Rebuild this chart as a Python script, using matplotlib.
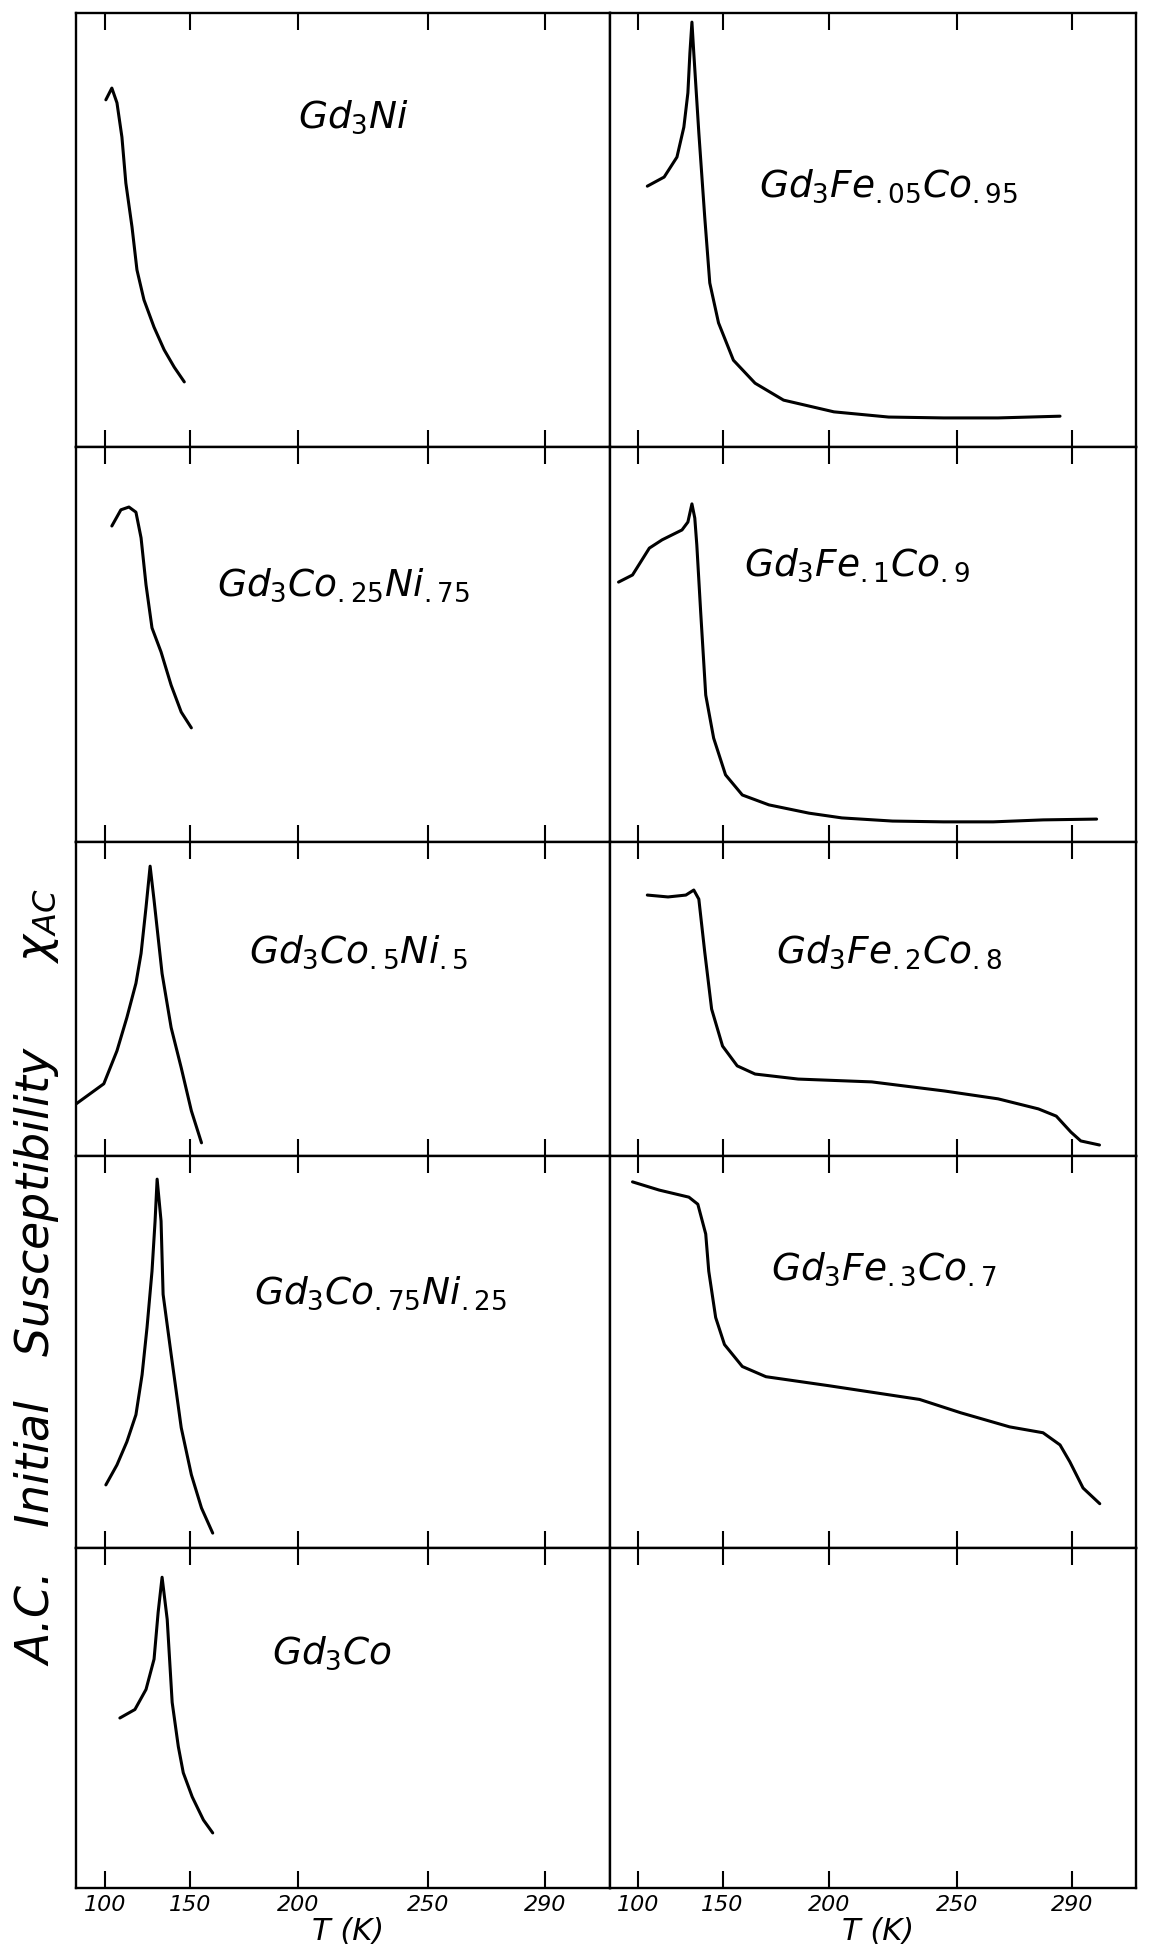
import numpy as np
import matplotlib
matplotlib.use('Agg')
import matplotlib.pyplot as plt

# hand-ruled temperature axis: tick values and where they sit along the panel width
T_TICKS = [100, 150, 200, 250, 290]
TICK_LABELS = ['100', '150', '200', '250', '290']
TICK_POS = [0.054, 0.214, 0.416, 0.659, 0.878]

# ---------------------------------------------------------------- curves (chi in arbitrary units)
gd3ni_T = [100.6, 104.1, 107.1, 110.0, 112.3, 115.9, 118.8, 122.9, 128.8, 134.7, 140.6, 146.5]
gd3ni_chi = [0.80, 0.827, 0.793, 0.714, 0.608, 0.507, 0.408, 0.339, 0.276, 0.224, 0.184, 0.15]

gd3co25ni75_T = [104.1, 109.4, 114.1, 118.2, 121.2, 124.1, 127.6, 132.9, 138.8, 144.7, 150.5]
gd3co25ni75_chi = [0.80, 0.841, 0.848, 0.835, 0.77, 0.651, 0.542, 0.481, 0.397, 0.329, 0.289]

gd3co5ni5_T = [83.2, 99.4, 107.1, 112.9, 118.2, 121.2, 124.1, 126.5, 128.8, 133.5, 138.8, 144.7, 150.5, 155.2]
gd3co5ni5_chi = [0.166, 0.23, 0.335, 0.441, 0.55, 0.645, 0.792, 0.923, 0.815, 0.581, 0.409, 0.281, 0.144, 0.042]

gd3co75ni25_T = [100.6, 107.1, 112.9, 118.2, 121.8, 124.7, 127.6, 129.4, 130.6, 132.9, 134.1, 138.8, 144.7, 150.5,
                 155.2, 160.4]
gd3co75ni25_chi = [0.161, 0.212, 0.271, 0.34, 0.442, 0.563, 0.706, 0.834, 0.941, 0.834, 0.647, 0.494, 0.307, 0.187,
                   0.102, 0.038]

gd3co_T = [108.8, 117.6, 124.1, 128.8, 131.2, 133.5, 136.5, 139.4, 143.0, 145.9, 150.9, 156.1, 160.4]
gd3co_chi = [0.50, 0.525, 0.584, 0.673, 0.811, 0.914, 0.79, 0.546, 0.416, 0.339, 0.268, 0.2, 0.162]

fe05_T = [105.3, 115.3, 122.9, 127.0, 129.4, 130.6, 131.8, 132.9, 135.9, 139.4, 142.4, 147.6, 155.1, 165.3, 178.7,
          202.0, 223.4, 244.9, 264.4, 285.9]
fe05_chi = [0.601, 0.622, 0.668, 0.737, 0.816, 0.908, 0.979, 0.908, 0.724, 0.53, 0.378, 0.286, 0.2, 0.147, 0.108,
            0.081, 0.069, 0.067, 0.067, 0.071]

fe1_T = [88.2, 96.5, 106.5, 114.1, 125.9, 129.4, 131.8, 133.5, 134.7, 137.0, 140.0, 144.7, 151.4, 159.3, 171.8,
         190.7, 205.1, 224.9, 244.8, 262.7, 280.1, 298.6]
fe1_chi = [0.658, 0.676, 0.744, 0.765, 0.79, 0.81, 0.856, 0.82, 0.752, 0.582, 0.372, 0.263, 0.17, 0.119, 0.094,
           0.073, 0.061, 0.053, 0.051, 0.051, 0.056, 0.058]

fe2_T = [105.3, 117.6, 128.2, 132.9, 135.9, 139.4, 143.5, 150.0, 156.9, 165.3, 185.6, 216.8, 245.3, 264.4, 278.4,
         284.6, 289.7, 293.1, 299.6]
fe2_chi = [0.831, 0.825, 0.831, 0.847, 0.818, 0.65, 0.468, 0.35, 0.287, 0.261, 0.245, 0.236, 0.207, 0.182, 0.15,
           0.127, 0.076, 0.048, 0.035]

fe3_T = [96.5, 112.4, 130.0, 135.3, 140.0, 141.8, 145.9, 150.9, 159.3, 170.4, 200.0, 235.5, 251.4, 268.4, 280.0,
         285.9, 289.3, 293.9, 299.7]
fe3_chi = [0.934, 0.913, 0.895, 0.877, 0.801, 0.706, 0.588, 0.519, 0.463, 0.437, 0.414, 0.379, 0.345, 0.309, 0.294,
           0.263, 0.22, 0.153, 0.113]

# (row, col, T, chi, label, label x, label y)
panels = [
    (0, 0, gd3ni_T, gd3ni_chi, r'$Gd_3Ni$', 0.52, 0.76),
    (1, 0, gd3co25ni75_T, gd3co25ni75_chi, r'$Gd_3Co_{.25}Ni_{.75}$', 0.50, 0.65),
    (2, 0, gd3co5ni5_T, gd3co5ni5_chi, r'$Gd_3Co_{.5}Ni_{.5}$', 0.53, 0.65),
    (3, 0, gd3co75ni25_T, gd3co75ni25_chi, r'$Gd_3Co_{.75}Ni_{.25}$', 0.57, 0.65),
    (4, 0, gd3co_T, gd3co_chi, r'$Gd_3Co$', 0.48, 0.69),
    (0, 1, fe05_T, fe05_chi, r'$Gd_3Fe_{.05}Co_{.95}$', 0.53, 0.60),
    (1, 1, fe1_T, fe1_chi, r'$Gd_3Fe_{.1}Co_{.9}$', 0.47, 0.70),
    (2, 1, fe2_T, fe2_chi, r'$Gd_3Fe_{.2}Co_{.8}$', 0.53, 0.65),
    (3, 1, fe3_T, fe3_chi, r'$Gd_3Fe_{.3}Co_{.7}$', 0.52, 0.71),
]

# ---------------------------------------------------------------- non-uniform T axis
slope_lo = (TICK_POS[1] - TICK_POS[0]) / (T_TICKS[1] - T_TICKS[0])
slope_hi = (TICK_POS[-1] - TICK_POS[-2]) / (T_TICKS[-1] - T_TICKS[-2])
T_EXT = np.array([0.0] + T_TICKS + [500.0])
POS_EXT = np.array([TICK_POS[0] - 100 * slope_lo] + TICK_POS + [TICK_POS[-1] + 210 * slope_hi])


def fwd(t):
    return np.interp(t, T_EXT, POS_EXT)


def inv(p):
    return np.interp(p, POS_EXT, T_EXT)


T_LO, T_HI = float(inv(0.0)), float(inv(1.0))

fig = plt.figure(figsize=(11.54, 19.52), dpi=100)
gs = fig.add_gridspec(5, 2, left=76 / 1154, right=1136 / 1154, top=1 - 13 / 1952, bottom=1 - 1888 / 1952,
                      height_ratios=[434, 395, 314, 392, 340], width_ratios=[534, 526],
                      hspace=0, wspace=0)

axes = {}
for row in range(5):
    for col in range(2):
        ax = fig.add_subplot(gs[row, col])
        ax.set_xscale('function', functions=(fwd, inv))
        ax.set_xlim(T_LO, T_HI)
        ax.set_ylim(0, 1)
        ax.set_yticks([])
        ax.set_xticks(T_TICKS)
        ax.set_xticks([], minor=True)
        ax.tick_params(axis='x', direction='in', length=12, width=1.5, top=True, bottom=True,
                       labelbottom=(row == 4), labelsize=16, pad=5)
        for sp in ax.spines.values():
            sp.set_linewidth(1.7)
        if row == 4:
            ax.set_xticklabels(TICK_LABELS, fontstyle='italic')
            ax.set_xlabel('T (K)', fontsize=22, fontstyle='italic', va='top')
            ax.xaxis.set_label_coords(0.51, -0.085)
        axes[(row, col)] = ax

for row, col, T, chi, label, lx, ly in panels:
    ax = axes[(row, col)]
    ax.plot(T, chi, color='black', lw=2.2, solid_capstyle='round', solid_joinstyle='round')
    ax.text(lx, ly, label, transform=ax.transAxes, ha='center', va='center', fontsize=27)

fig.text(0.032, 0.346, r'A.C.   Initial   Susceptibility      $\chi_{AC}$', rotation=90,
         ha='center', va='center', fontsize=33, fontstyle='italic')

fig.savefig('out.png', dpi=100)
